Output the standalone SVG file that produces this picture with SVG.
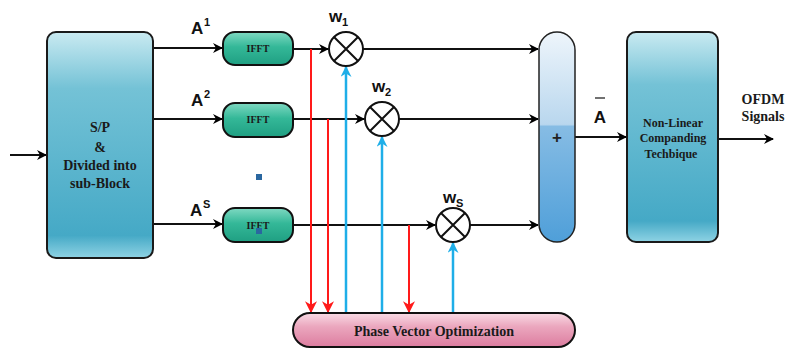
<svg xmlns="http://www.w3.org/2000/svg" width="788" height="352" viewBox="0 0 788 352">
<defs>
<linearGradient id="gBlock" x1="0" y1="0" x2="0" y2="1">
<stop offset="0" stop-color="#c9eaf1"/>
<stop offset="0.25" stop-color="#74c2d6"/>
<stop offset="0.9" stop-color="#45a9c6"/>
<stop offset="1" stop-color="#8fd3e4"/>
</linearGradient>
<linearGradient id="gIfft" x1="0" y1="0" x2="0" y2="1">
<stop offset="0" stop-color="#7fd9c2"/>
<stop offset="0.45" stop-color="#34b898"/>
<stop offset="1" stop-color="#1f9f82"/>
</linearGradient>
<linearGradient id="gSum" x1="0" y1="0" x2="0" y2="1">
<stop offset="0" stop-color="#eef5fb"/>
<stop offset="0.44" stop-color="#b9d7ee"/>
<stop offset="0.45" stop-color="#86bce4"/>
<stop offset="1" stop-color="#4f9fd9"/>
</linearGradient>
<linearGradient id="gPhase" x1="0" y1="0" x2="0" y2="1">
<stop offset="0" stop-color="#f9dbe5"/>
<stop offset="0.4" stop-color="#eba7be"/>
<stop offset="1" stop-color="#dc7c9f"/>
</linearGradient>
<marker id="aBlack" viewBox="0 0 10 10" refX="9" refY="5" markerWidth="10" markerHeight="10" markerUnits="userSpaceOnUse" orient="auto">
<path d="M0,0 L10,5 L0,10 L3,5 z" fill="#000"/>
</marker>
<marker id="aRed" viewBox="0 0 10 10" refX="9" refY="5" markerWidth="12" markerHeight="12" markerUnits="userSpaceOnUse" orient="auto">
<path d="M0,0 L10,5 L0,10 L3,5 z" fill="#ff1a1a"/>
</marker>
<marker id="aBlue" viewBox="0 0 10 10" refX="9" refY="5" markerWidth="11" markerHeight="11" markerUnits="userSpaceOnUse" orient="auto">
<path d="M0,0 L10,5 L0,10 L3,5 z" fill="#1eaee8"/>
</marker>
</defs>
<style>
.blk{fill:url(#gBlock);stroke:#1a1a1a;stroke-width:2}
.ifft{fill:url(#gIfft);stroke:#111;stroke-width:2}
.ifftt{font-family:"Liberation Serif",serif;font-weight:bold;font-size:10px;fill:#1a1a1a;text-anchor:middle}
.bt{font-family:"Liberation Serif",serif;font-weight:bold;font-size:14px;fill:#1a1a1a;text-anchor:middle}
.st{font-family:"Liberation Serif",serif;font-weight:bold;font-size:12px;fill:#1a1a1a;text-anchor:middle}
.lab{font-family:"Liberation Sans",Arial,sans-serif;font-weight:bold;font-size:17px;fill:#111}
.sub{font-family:"Liberation Sans",Arial,sans-serif;font-weight:bold;font-size:11px;fill:#111}
.mult circle{fill:#fff;stroke:#111;stroke-width:2}
.mult path{stroke:#111;stroke-width:2;fill:none}
.bl{stroke:#111;stroke-width:2;fill:none}
.rd{stroke:#ff1a1a;stroke-width:2;fill:none}
.bu{stroke:#1eaee8;stroke-width:2.5;fill:none}
</style>

<g id="connectors">
<line class="bl" x1="10" y1="155" x2="46" y2="155" marker-end="url(#aBlack)"/>
<line class="bl" x1="153" y1="48" x2="222" y2="48" marker-end="url(#aBlack)"/>
<line class="bl" x1="153" y1="119" x2="222" y2="119" marker-end="url(#aBlack)"/>
<line class="bl" x1="153" y1="224" x2="222" y2="224" marker-end="url(#aBlack)"/>
<line class="bl" x1="293" y1="49" x2="328" y2="49" marker-end="url(#aBlack)"/>
<line class="bl" x1="293" y1="119" x2="364" y2="119" marker-end="url(#aBlack)"/>
<line class="bl" x1="293" y1="225" x2="435" y2="225" marker-end="url(#aBlack)"/>
<line class="bl" x1="363" y1="49" x2="538" y2="49" marker-end="url(#aBlack)"/>
<line class="bl" x1="399" y1="119" x2="538" y2="119" marker-end="url(#aBlack)"/>
<line class="bl" x1="470" y1="225" x2="538" y2="225" marker-end="url(#aBlack)"/>
<line class="bl" x1="575" y1="137" x2="626" y2="137" marker-end="url(#aBlack)"/>
<line class="bl" x1="718" y1="139" x2="773" y2="139" marker-end="url(#aBlack)"/>
<line class="rd" x1="311" y1="49" x2="311" y2="312" marker-end="url(#aRed)"/>
<line class="rd" x1="328" y1="119" x2="328" y2="312" marker-end="url(#aRed)"/>
<line class="rd" x1="409" y1="225" x2="409" y2="312" marker-end="url(#aRed)"/>
<line class="bu" x1="346" y1="313" x2="346" y2="67" marker-end="url(#aBlue)"/>
<line class="bu" x1="382" y1="313" x2="382" y2="137" marker-end="url(#aBlue)"/>
<line class="bu" x1="453" y1="313" x2="453" y2="243" marker-end="url(#aBlue)"/>
</g>

<g id="sp-block">
<rect class="blk" x="47" y="32" width="106" height="226" rx="9"/>
<text class="bt" x="100" y="132">S/P</text>
<text class="bt" x="100" y="152">&amp;</text>
<text class="bt" x="100" y="170">Divided into</text>
<text class="bt" x="100" y="188">sub-Block</text>
</g>

<g id="labels-a">
<text class="lab" x="191" y="34">A</text><text class="sub" x="204" y="26">1</text>
<text class="lab" x="191" y="106">A</text><text class="sub" x="204" y="98">2</text>
<text class="lab" x="190" y="216">A</text><text class="sub" x="203" y="208">S</text>
</g>

<g id="ifft1">
<rect class="ifft" x="223" y="32" width="70" height="33" rx="12"/>
<text class="ifftt" x="258" y="52">IFFT</text>
</g>
<g id="ifft2">
<rect class="ifft" x="223" y="103" width="70" height="34" rx="12"/>
<text class="ifftt" x="258" y="123">IFFT</text>
</g>
<g id="ifft3">
<rect class="ifft" x="223" y="208" width="70" height="34" rx="12"/>
<text class="ifftt" x="258" y="229">IFFT</text>
</g>
<g id="dots">
<rect x="256" y="174" width="6" height="6" fill="#2a67a0"/>
<rect x="256" y="228" width="6" height="6" fill="#2a67a0"/>
</g>

<g id="mult1" class="mult">
<circle cx="346" cy="49" r="17"/>
<path d="M334,37 L358,61 M358,37 L334,61"/>
<text class="lab" x="329" y="22" font-size="15">w</text><text class="sub" x="342" y="26" font-size="10">1</text>
</g>
<g id="mult2" class="mult">
<circle cx="382" cy="119" r="17"/>
<path d="M370,107 L394,131 M394,107 L370,131"/>
<text class="lab" x="372" y="92" font-size="15">w</text><text class="sub" x="385" y="96" font-size="10">2</text>
</g>
<g id="multS" class="mult">
<circle cx="453" cy="225" r="17"/>
<path d="M441,213 L465,237 M465,213 L441,237"/>
<text class="lab" x="443" y="203" font-size="15">w</text><text class="sub" x="456" y="207" font-size="10">S</text>
</g>

<g id="sum">
<rect x="539" y="32" width="36" height="210" rx="18" fill="url(#gSum)" stroke="#222" stroke-width="1.5"/>
<text x="557" y="143" font-family="Liberation Sans,Arial,sans-serif" font-weight="bold" font-size="17" fill="#222" text-anchor="middle">+</text>
</g>

<g id="abar">
<line x1="595" y1="98" x2="605" y2="98" stroke="#111" stroke-width="1.2"/>
<text class="lab" x="600" y="123" text-anchor="middle">A</text>
</g>

<g id="companding">
<rect class="blk" x="627" y="32" width="91" height="210" rx="9"/>
<text class="st" x="673" y="127">Non-Linear</text>
<text class="st" x="673" y="142">Companding</text>
<text class="st" x="671" y="158">Techbique</text>
</g>

<g id="output-label">
<text class="bt" x="763" y="104">OFDM</text>
<text class="bt" x="763" y="121">Signals</text>
</g>

<g id="phase">
<rect x="293" y="313" width="282" height="34" rx="17" fill="url(#gPhase)" stroke="#111" stroke-width="2"/>
<text class="bt" x="434" y="336">Phase Vector Optimization</text>
</g>
</svg>
